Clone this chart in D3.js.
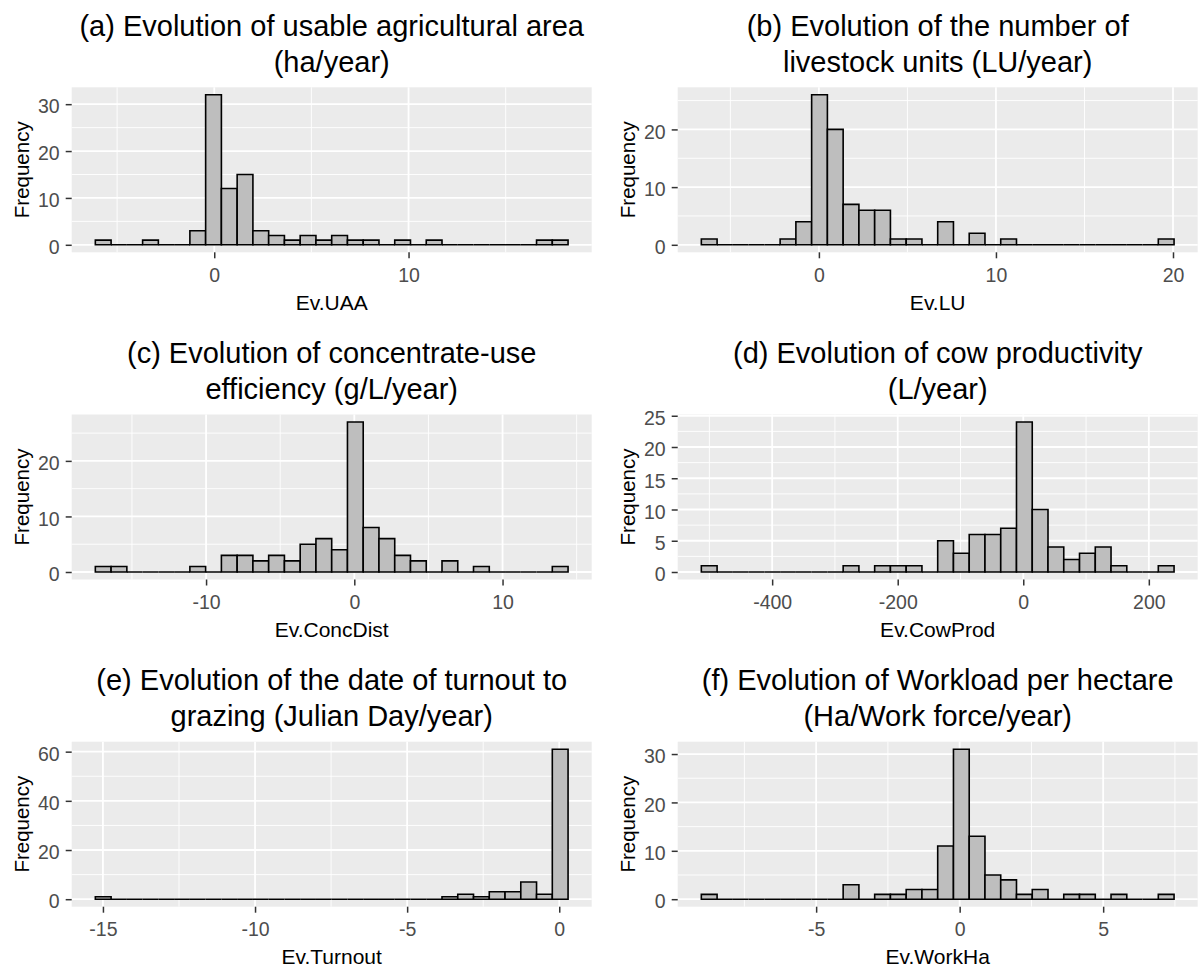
<!DOCTYPE html>
<html><head><meta charset="utf-8">
<script src="https://cdn.jsdelivr.net/npm/d3@7"></script>
<style>
body{margin:0;background:#fff}
svg{display:block}
text{font-family:"Liberation Sans",Arial,Helvetica,sans-serif}
</style>
</head><body>
<svg id="chart" width="1198" height="967"></svg>
<script>
// ---------- data ----------
const panelTitles = [
  ["(a) Evolution of usable agricultural area", "(ha/year)"],
  ["(b) Evolution of the number of", "livestock units (LU/year)"],
  ["(c) Evolution of concentrate-use", "efficiency (g/L/year)"],
  ["(d) Evolution of cow productivity", "(L/year)"],
  ["(e) Evolution of the date of turnout to", "grazing (Julian Day/year)"],
  ["(f) Evolution of Workload per hectare", "(Ha/Work force/year)"]
];
const xLabels = ["Ev.UAA", "Ev.LU", "Ev.ConcDist", "Ev.CowProd", "Ev.Turnout", "Ev.WorkHa"];
const yLabel = "Frequency";

// 30-bin histogram counts per panel
const countsUAA      = [1,0,0,1,0,0,3,32,12,15,3,2,1,2,1,2,1,1,0,1,0,1,0,0,0,0,0,0,1,1];
const countsLU       = [1,0,0,0,0,1,4,26,20,7,6,6,1,1,0,4,0,2,0,1,0,0,0,0,0,0,0,0,0,1];
const countsConcDist = [1,1,0,0,0,0,1,0,3,3,2,3,2,5,6,4,27,8,6,3,2,0,2,0,1,0,0,0,0,1];
const countsCowProd  = [1,0,0,0,0,0,0,0,0,1,0,1,1,1,0,5,3,6,6,7,24,10,4,2,3,4,1,0,0,1];
const countsTurnout  = [1,0,0,0,0,0,0,0,0,0,0,0,0,0,0,0,0,0,0,0,0,0,1,2,1,3,3,7,2,61];
const countsWorkHa   = [1,0,0,0,0,0,0,0,0,3,0,1,1,2,2,11,31,13,5,4,1,2,0,1,1,0,1,0,0,1];

// first bin left edge and bin width (data units)
const binStarts = [-6.12, -6.64, -17.47, -512.8, -15.25, -9.0];
const binWidths = [0.811, 0.890, 1.063, 25.1, 0.518, 0.549];

// axis breaks
const xTicksList = [[0,10],[0,10,20],[-10,0,10],[-400,-200,0,200],[-15,-10,-5,0],[-5,0,5]];
const yTicksList = [[0,10,20,30],[0,10,20],[0,10,20],[0,5,10,15,20,25],[0,20,40,60],[0,10,20,30]];

const allCounts = [countsUAA, countsLU, countsConcDist, countsCowProd, countsTurnout, countsWorkHa];

// ---------- drawing ----------
const svg = d3.select("#chart");
const PW = 520, PH = 165;
const colLeft = [71.7, 677.7];
const rowTop0 = 87.3, rowStep = 327.2;
const FONT = '"Liberation Sans", Arial, Helvetica, sans-serif';

function minorBreaks(major, dom) {
  const s = major[1] - major[0];
  const out = [];
  for (let k = -2; k <= major.length + 1; k++) {
    const v = major[0] + (k - 0.5) * s;
    if (v > dom[0] && v < dom[1]) out.push(v);
  }
  return out;
}

allCounts.forEach((counts, i) => {
  const col = i % 2, row = Math.floor(i / 2);
  const left = colLeft[col], top = rowTop0 + row * rowStep;
  const g = svg.append("g").attr("transform", `translate(${left},${top})`);

  const start = binStarts[i], w = binWidths[i];
  const end = start + counts.length * w;
  const R = end - start;
  const xDom = [start - 0.05 * R, end + 0.05 * R];
  const maxC = d3.max(counts);
  const yDom = [-0.05 * maxC, 1.05 * maxC];
  const x = d3.scaleLinear().domain(xDom).range([0, PW]);
  const y = d3.scaleLinear().domain(yDom).range([PH, 0]);

  // panel background
  g.append("rect").attr("width", PW).attr("height", PH).attr("fill", "#EBEBEB");

  const xt = xTicksList[i].filter(v => v >= xDom[0] && v <= xDom[1]);
  const yt = yTicksList[i].filter(v => v >= yDom[0] && v <= yDom[1]);
  const xm = minorBreaks(xTicksList[i], xDom);
  const ym = minorBreaks(yTicksList[i], yDom);

  // minor grid
  g.selectAll(".xmin").data(xm).join("line")
    .attr("x1", d => x(d)).attr("x2", d => x(d)).attr("y1", 0).attr("y2", PH)
    .attr("stroke", "#fff").attr("stroke-width", 0.9);
  g.selectAll(".ymin").data(ym).join("line")
    .attr("y1", d => y(d)).attr("y2", d => y(d)).attr("x1", 0).attr("x2", PW)
    .attr("stroke", "#fff").attr("stroke-width", 0.9);
  // major grid
  g.selectAll(".xmaj").data(xt).join("line")
    .attr("x1", d => x(d)).attr("x2", d => x(d)).attr("y1", 0).attr("y2", PH)
    .attr("stroke", "#fff").attr("stroke-width", 1.8);
  g.selectAll(".ymaj").data(yt).join("line")
    .attr("y1", d => y(d)).attr("y2", d => y(d)).attr("x1", 0).attr("x2", PW)
    .attr("stroke", "#fff").attr("stroke-width", 1.8);

  // bars (as paths so zero-height bins still draw their outline)
  const bins = counts.map((c, k) => ({x0: start + k * w, x1: start + (k + 1) * w, c}));
  g.selectAll(".bar").data(bins).join("path")
    .attr("d", d => {
      const p = d3.path();
      p.moveTo(x(d.x0), y(0));
      p.lineTo(x(d.x0), y(d.c));
      p.lineTo(x(d.x1), y(d.c));
      p.lineTo(x(d.x1), y(0));
      p.closePath();
      return p.toString();
    })
    .attr("fill", "#BEBEBE").attr("stroke", "#000").attr("stroke-width", 1.6)
    .attr("stroke-linejoin", "miter");

  // axes
  const fmt = d => d3.format("d")(d).replace("\u2212", "-");
  const xAxis = d3.axisBottom(x).tickValues(xt).tickSize(6).tickPadding(6).tickFormat(fmt);
  const gx = g.append("g").attr("transform", `translate(0,${PH})`).call(xAxis);
  const yAxis = d3.axisLeft(y).tickValues(yt).tickSize(6).tickPadding(6).tickFormat(fmt);
  const gy = g.append("g").call(yAxis);
  [gx, gy].forEach(a => {
    a.attr("font-size", null).attr("font-family", null);
    a.select(".domain").remove();
    a.selectAll(".tick line").attr("stroke", "#333333").attr("stroke-width", 1.5);
    a.selectAll(".tick text").attr("fill", "#4D4D4D")
      .style("font-size", "19.5px").style("font-family", FONT);
  });
  gx.selectAll(".tick text").attr("dy", null).attr("y", 29.4);
  gy.selectAll(".tick text").attr("dy", "0.45em");

  // axis titles
  g.append("text").attr("x", PW / 2).attr("y", PH + 57.7).attr("text-anchor", "middle")
    .style("font-size", "21px").attr("fill", "#000").text(xLabels[i]);
  g.append("text").attr("transform", `translate(${29 - 71.7},${PH / 2}) rotate(-90)`)
    .attr("text-anchor", "middle").style("font-size", "20.5px").attr("fill", "#000").text(yLabel);

  // title
  const t = g.append("text").attr("text-anchor", "middle").style("font-size", "29px").attr("fill", "#000");
  panelTitles[i].forEach((line, j) => {
    t.append("tspan").attr("x", PW / 2).attr("y", 35.7 - rowTop0 + j * 36.2).text(line);
  });
});
</script>
</body></html>
